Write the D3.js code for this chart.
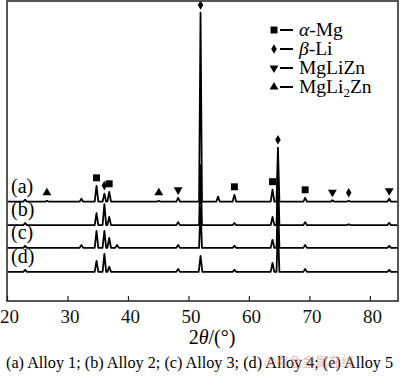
<!DOCTYPE html>
<html lang="en">
<head>
  <meta charset="UTF-8">
  <title>XRD patterns of alloys</title>
  <script src="https://d3js.org/d3.v7.min.js"></script>
  <style>
    body { margin: 0; background: #fff; }
    svg text { font-family: "Liberation Serif", "Times New Roman", Times, serif; }
  </style>
</head>
<body>
<svg width="400" height="378"></svg>
<script>
  const width = 400, height = 378;

  // pattern labels and vertical offsets (intensity units)
  const patterns = ["(a)", "(b)", "(c)", "(d)"];
  const offsets = [33.1, 25.3, 17.7, 9.7];

  // peaks per pattern: [2theta, intensity]
  const peaksA = [[23.0, 0.7], [26.6, 0.3], [32.3, 1], [34.8, 5.3], [36.1, 2.7], [36.9, 3.3], [45.1, 0.3], [48.3, 1.3],
                  [52.0, 63], [54.9, 1.7], [57.6, 2.3], [63.9, 4], [64.8, 18], [69.3, 1.3], [73.8, 0.5], [76.5, 0.3], [83.2, 1]];
  const peaksB = [[23.0, 0.7], [34.8, 4], [36.1, 7], [36.9, 2.7], [48.3, 1], [52.0, 20], [57.6, 0.7],
                  [63.9, 2.7], [64.8, 18.3], [69.3, 1], [76.5, 0.3], [83.2, 0.8]];
  const peaksC = [[23.0, 0.7], [32.3, 1], [34.8, 5.7], [36.1, 5.7], [36.9, 3.3], [38.2, 1], [48.3, 1], [52.0, 13.3],
                  [57.6, 0.7], [63.9, 2.7], [64.8, 16.7], [69.3, 1], [83.2, 0.7]];
  const peaksD = [[23.0, 0.7], [34.8, 3.7], [36.1, 6], [36.9, 1.7], [48.3, 1], [52.0, 5.3], [57.6, 0.7],
                  [63.9, 3], [64.8, 15], [69.3, 1], [83.2, 0.7]];
  const allPeaks = [peaksA, peaksB, peaksC, peaksD];

  // phase markers over pattern (a): [2theta, phase]
  const markers = [[26.6, "MgLi2Zn"], [34.8, "a-Mg"], [36.1, "b-Li"], [36.9, "a-Mg"], [45.1, "MgLi2Zn"], [48.3, "MgLiZn"],
                   [52.0, "b-Li"], [57.6, "a-Mg"], [63.9, "a-Mg"], [64.8, "b-Li"], [69.3, "a-Mg"], [73.8, "MgLiZn"],
                   [76.5, "b-Li"], [83.2, "MgLiZn"]];

  const phases = ["a-Mg", "b-Li", "MgLiZn", "MgLi2Zn"];
  const xTicks = [20, 30, 40, 50, 60, 70, 80];

  const svg = d3.select("svg");
  const x = d3.scaleLinear().domain([20, 84.65]).range([7, 398]);
  const y = d3.scaleLinear().domain([0, 100]).range([301, 1]);

  const symbolOf = {
    "a-Mg": { type: d3.symbolSquare, size: 48, rot: 0 },
    "b-Li": { type: d3.symbolDiamond, size: 26, rot: 0 },
    "MgLiZn": { type: d3.symbolTriangle, size: 34, rot: 180 },
    "MgLi2Zn": { type: d3.symbolTriangle, size: 34, rot: 0 }
  };

  // build trace points from the peak list
  const hw = 0.3;
  function tracePoints(peaks, off) {
    const pts = [[20, off]];
    peaks.forEach(([p, h]) => {
      const w = h > 10 ? hw * 0.8 : hw;
      pts.push([p - w, off], [p, off + h], [p + w, off]);
    });
    pts.push([84.65, off]);
    return pts;
  }

  const line = d3.line().x(d => x(d[0])).y(d => y(d[1]));

  allPeaks.forEach((peaks, i) => {
    svg.append("path")
      .attr("d", line(tracePoints(peaks, offsets[i])))
      .attr("fill", "none")
      .attr("stroke", "#000")
      .attr("stroke-width", 1.8)
      .attr("stroke-linejoin", "round");

    svg.append("text")
      .attr("x", 11)
      .attr("y", y(offsets[i]) - 9)
      .attr("font-size", 20)
      .text(patterns[i]);
  });

  // markers above pattern (a)
  const heightAt = a => {
    const pk = peaksA.find(p => p[0] === a);
    return pk ? pk[1] : 0;
  };
  markers.forEach(([a, ph]) => {
    const s = symbolOf[ph];
    const top = y(offsets[0] + heightAt(a));
    svg.append("path")
      .attr("d", d3.symbol(s.type, s.size)())
      .attr("transform", `translate(${x(a)},${Math.max(top - 8, 5)}) rotate(${s.rot})`)
      .attr("fill", "#000");
  });

  // frame
  svg.append("rect")
    .attr("x", 7).attr("y", 1)
    .attr("width", 391).attr("height", 300)
    .attr("fill", "none")
    .attr("stroke", "#444")
    .attr("stroke-width", 1.8);

  // x axis
  const xAxis = d3.axisBottom(x).tickValues(xTicks).tickSize(-5).tickPadding(9);
  const gx = svg.append("g").attr("transform", "translate(0,301)").call(xAxis);
  gx.attr("font-family", null);
  gx.select(".domain").remove();
  gx.selectAll("line").attr("stroke", "#222").attr("stroke-width", 1.2);
  gx.selectAll("text")
    .attr("font-size", 19)
    .attr("fill", "#111")
    .attr("dx", 2);

  const xt = svg.append("text")
    .attr("x", 212).attr("y", 344)
    .attr("text-anchor", "middle")
    .attr("font-size", 20);
  xt.append("tspan").text("2");
  xt.append("tspan").attr("font-style", "italic").text("θ");
  xt.append("tspan").text("/(°)");

  // legend
  const legendLabels = {
    "a-Mg": [["α", true], ["-Mg", false]],
    "b-Li": [["β", true], ["-Li", false]],
    "MgLiZn": [["MgLiZn", false]],
    "MgLi2Zn": [["MgLi", false], ["2", "sub"], ["Zn", "up"]]
  };
  phases.forEach((ph, i) => {
    const cy = 30 + i * 19;
    const s = symbolOf[ph];
    svg.append("path")
      .attr("d", d3.symbol(s.type, s.size)())
      .attr("transform", `translate(274,${cy}) rotate(${s.rot})`)
      .attr("fill", "#000");
    svg.append("line")
      .attr("x1", 280).attr("x2", 293)
      .attr("y1", cy).attr("y2", cy)
      .attr("stroke", "#000").attr("stroke-width", 2);
    const t = svg.append("text")
      .attr("x", 299).attr("y", cy + 6)
      .attr("font-size", 19.5);
    legendLabels[ph].forEach(([str, st]) => {
      const ts = t.append("tspan").text(str);
      if (st === true) ts.attr("font-style", "italic");
      if (st === "sub") ts.attr("font-size", 13).attr("dy", 4);
      if (st === "up") ts.attr("dy", -4);
    });
  });

  // caption
  svg.append("text")
    .attr("x", 6).attr("y", 368)
    .attr("font-size", 16)
    .attr("textLength", 387)
    .attr("lengthAdjust", "spacingAndGlyphs")
    .text("(a) Alloy 1;  (b) Alloy 2; (c) Alloy 3; (d) Alloy 4; (e) Alloy 5");

  svg.append("text")
    .attr("x", 264).attr("y", 366)
    .style("font-family", "'Noto Sans CJK SC', sans-serif")
    .attr("font-size", 13)
    .attr("fill", "#e07a7a")
    .attr("fill-opacity", 0.55)
    .text("@有色金属在线");
</script>
</body>
</html>
